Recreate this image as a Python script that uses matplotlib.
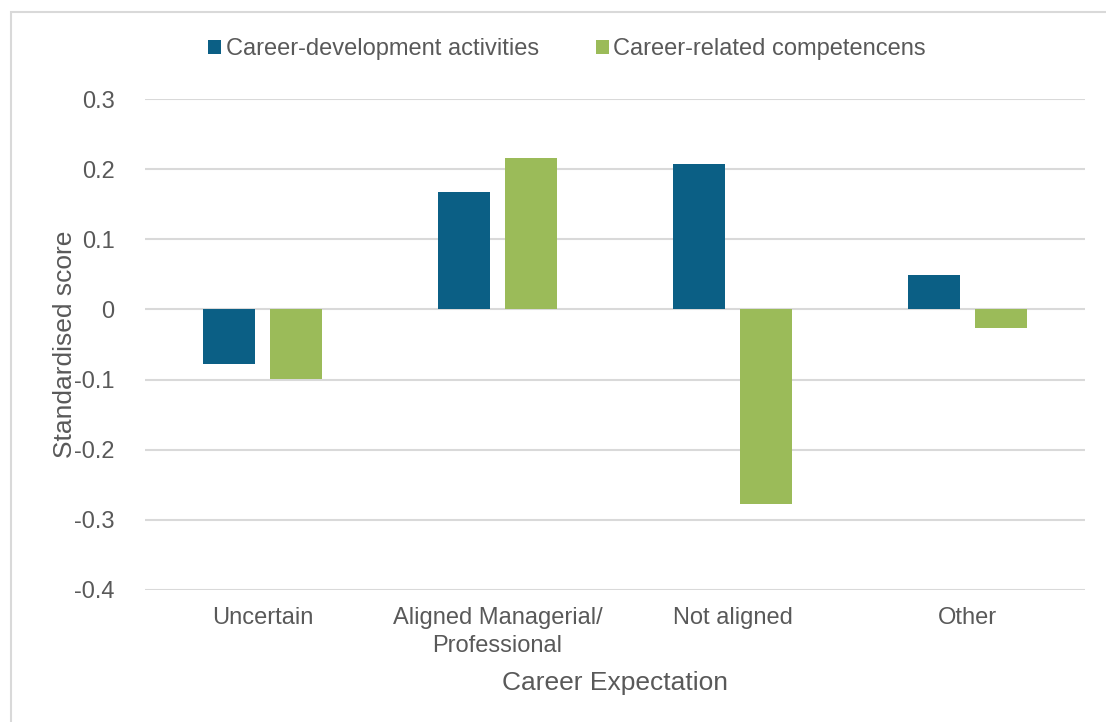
import matplotlib.pyplot as plt
import matplotlib.patches as patches
import numpy as np

categories = ["Uncertain", "Aligned Managerial/\nProfessional", "Not aligned", "Other"]
activities = [-0.078, 0.167, 0.207, 0.049]
competencies = [-0.099, 0.216, -0.277, -0.027]
series_names = ["Career-development activities", "Career-related competencens"]
yticks = [0.3, 0.2, 0.1, 0, -0.1, -0.2, -0.3, -0.4]

blue = "#0B5F85"
green = "#9BBB59"
text_col = "#595959"
grid_col = "#D9D9D9"

plt.rcParams['font.family'] = ['Liberation Sans', 'DejaVu Sans']

fig = plt.figure(figsize=(11.06, 7.22), dpi=100)
ax = fig.add_axes([145 / 1106, 132 / 722, 940 / 1106, 491 / 722])

x = np.arange(len(categories))
w = 0.225
off = 0.1426
b1 = ax.bar(x - off, activities, w, color=blue, zorder=3, label=series_names[0])
b2 = ax.bar(x + off, competencies, w, color=green, zorder=3, label=series_names[1])

ax.set_xlim(-0.5, len(categories) - 0.5)
ax.set_ylim(-0.4, 0.3)
ax.set_yticks(yticks)
ax.set_yticklabels([f"{v:g}" for v in yticks])
ax.set_xticks(x)
ax.set_xticklabels(categories, linespacing=1.4)

for v in yticks:
    ax.axhline(v, color=grid_col, lw=1.5, zorder=1)

for s in ax.spines.values():
    s.set_visible(False)
ax.tick_params(axis='both', length=0, labelsize=17, colors=text_col)
ax.tick_params(axis='y', pad=22)
ax.tick_params(axis='x', pad=12)

ax.set_xlabel("Career Expectation", fontsize=19, color=text_col, labelpad=10)
ax.set_ylabel("Standardised score", fontsize=19, color=text_col, labelpad=-2)

leg = fig.legend(handles=[b1, b2], loc='center', bbox_to_anchor=(567 / 1106, 1 - 49 / 722),
                 ncol=2, frameon=False, fontsize=17, labelcolor=text_col,
                 handlelength=0.55, handleheight=0.55, handletextpad=0.2, columnspacing=2.4)

# outer chart border (cut off at the right and bottom)
fig.patches.append(patches.Rectangle((10.5 / 1106, -0.05), 1.2, 1 - 11.5 / 722 + 0.05,
                                     transform=fig.transFigure, fill=False,
                                     edgecolor=grid_col, lw=1.5))

fig.savefig("out.png", dpi=100)
